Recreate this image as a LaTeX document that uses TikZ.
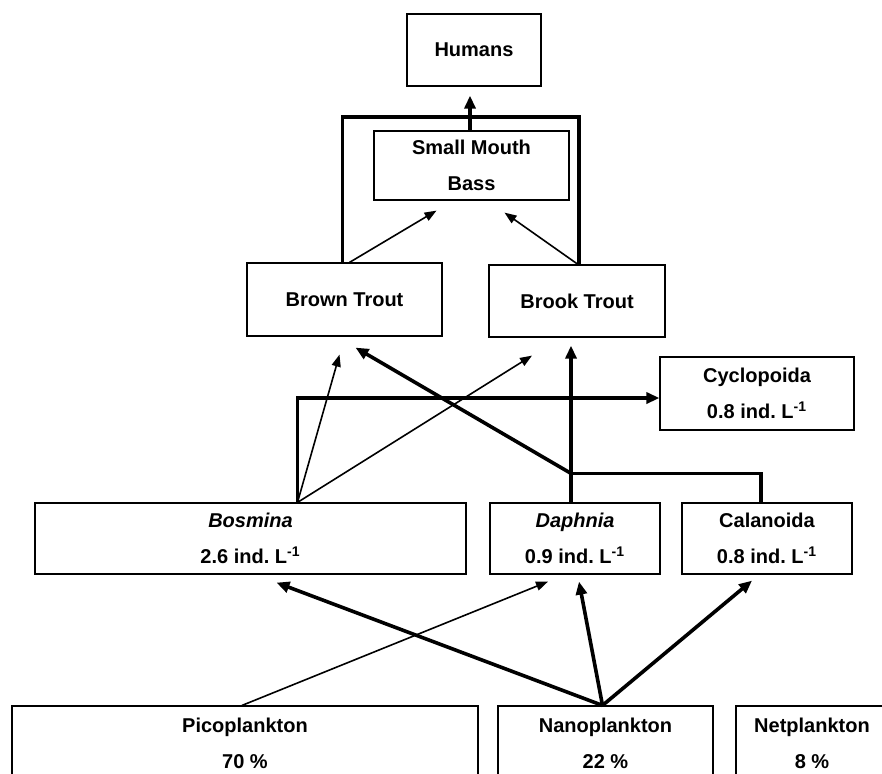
\documentclass[tikz,border=0pt]{standalone}
\usepackage{fontspec}
\setmainfont{Liberation Sans}
\usetikzlibrary{arrows.meta,calc}
\frenchspacing

\begin{document}
\begin{tikzpicture}[x=0.5pt,y=-0.5pt,
  box/.style={draw,line width=0.6pt,inner sep=0pt,align=center,
    font=\bfseries\fontsize{10}{18}\selectfont},
  feed/.style={line width=0.8pt,-{Triangle[length=6pt,width=4.5pt]}},
  bigfeed/.style={line width=1.8pt,-{Triangle[length=6.5pt,width=5.5pt]}},
  joint/.style={line width=1.8pt}]
\useasboundingbox (0,0) rectangle (882,773);
\clip (0,0) rectangle (882,773);

% Ryby a lide
\node[box,minimum width=67pt,minimum height=36pt] (humans) at (474,50) {Humans};
\node[box,minimum width=97.5pt,minimum height=34.5pt] (bass) at (471.5,165.5) {Small Mouth\\Bass};
\node[box,minimum width=97.5pt,minimum height=36.5pt] (brown) at (344.5,299.5) {Brown Trout};
\node[box,minimum width=88pt,minimum height=36pt] (brook) at (577,301) {Brook Trout};

% Zooplankton
\node[box,minimum width=97pt,minimum height=36.5pt] (cyclo) at (757,393.5) {Cyclopoida\\0.8 ind. L\textsuperscript{-1}};
\node[box,minimum width=215.5pt,minimum height=35.5pt] (bosmina) at (250.5,538.5) {\textit{Bosmina}\\2.6 ind. L\textsuperscript{-1}};
\node[box,minimum width=85pt,minimum height=35.5pt] (daphnia) at (575,538.5) {\textit{Daphnia}\\0.9 ind. L\textsuperscript{-1}};
\node[box,minimum width=85pt,minimum height=35.5pt] (calan) at (767,538.5) {Calanoida\\0.8 ind. L\textsuperscript{-1}};

% Fytoplankton
\node[box,minimum width=233pt,minimum height=37.5pt] (pico) at (245,743.5) {Picoplankton\\70 \%};
\node[box,minimum width=107.5pt,minimum height=37.5pt] (nano) at (605.5,743.5) {Nanoplankton\\22 \%};
\node[box,minimum width=76pt,minimum height=37.5pt] (net) at (812,743.5) {Netplankton\\8 \%};

% body spojeni
\coordinate (trout) at (470,117);
\coordinate (bos) at ($(bosmina.north)+(47,0)$);
\coordinate (zoo) at ($(daphnia.north)+(-4,-29)$);
\coordinate (humtip) at ($(humans.south)+(0,9)$);
\coordinate (brooktip) at ($(brook.south)+(0,8)$);
\coordinate (nanotop) at ($(nano.north)+(-3,0)$);

% ryby -> lide
\draw[joint] ($(brown.north)+(-2,0)$) |- (trout) -| ($(brook.north)+(2,0)$);
\draw[bigfeed] ($(bass.north)+(-1.5,0)$) -- ($(bass.north |- humtip)+(-1.5,0)$);
\draw[feed] ($(brown.north)+(5,0)$) -- ($(bass.south)+(-35,10)$);
\draw[feed] ($(brook.north)+(1,0)$) -- ($(bass.south)+(33,12)$);

% zooplankton -> ryby
\draw[feed] (bos) -- ($(brown.south)+(-5,18)$);
\draw[feed] (bos) -- ($(brook.south)+(-45,18)$);
\draw[bigfeed] (bos) |- ($(cyclo.west)+(0,4.5)$);
\draw[joint] ($(daphnia.north)+(-4,0)$) -- (zoo) -| ($(calan.north)+(-6,0)$);
\draw[bigfeed] (zoo) -- (zoo |- brooktip);
\draw[bigfeed] (zoo) -- ($(brown.south)+(11,11)$);

% fytoplankton -> zooplankton
\draw[bigfeed] (nanotop) -- ($(bosmina.south)+(26,8)$);
\draw[bigfeed] (nanotop) -- ($(daphnia.south)+(4,7)$);
\draw[bigfeed] (nanotop) -- ($(calan.south)+(-15,6)$);
\draw[feed] ($(pico.north)+(-3,0)$) -- ($(daphnia.south)+(-27,7)$);
\end{tikzpicture}
\end{document}
